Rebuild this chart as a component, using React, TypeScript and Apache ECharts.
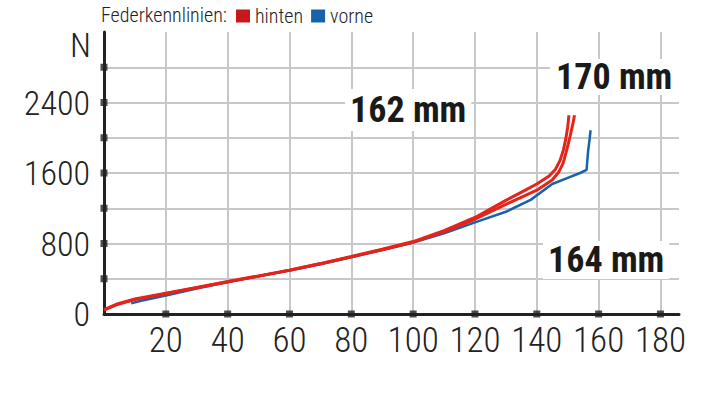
import React, { useEffect, useRef } from "react";
import * as echarts from "echarts";

// Federweg (mm) and Kraft (N)
const hintenAX = [0, 4, 10, 20, 30, 40, 50, 60, 70, 80, 90, 100, 110, 120, 130, 136, 140, 144, 146, 147.5, 148.6, 149.4, 150, 150.4];
const hintenAY = [50, 110, 170, 236, 302, 368, 432, 498, 572, 652, 735, 822, 945, 1095, 1290, 1400, 1475, 1565, 1640, 1740, 1860, 1990, 2120, 2255];

const hintenBX = [0, 4, 10, 20, 30, 40, 50, 60, 70, 80, 90, 100, 110, 120, 130, 136, 140, 145, 147, 148.5, 149.6, 150.5, 151.2, 151.8, 152.2];
const hintenBY = [45, 105, 163, 230, 298, 364, 430, 496, 570, 648, 730, 815, 932, 1075, 1245, 1340, 1405, 1520, 1605, 1710, 1850, 1975, 2085, 2180, 2255];

const vorneX = [8.8, 12, 20, 30, 40, 50, 60, 70, 80, 90, 100, 110, 120, 130, 138, 145, 150, 154, 156.1, 156.6, 157, 157.4];
const vorneY = [121, 150, 210, 290, 362, 428, 494, 565, 644, 726, 810, 915, 1040, 1160, 1295, 1475, 1545, 1600, 1635, 1850, 1960, 2085];

const xTicks = [20, 40, 60, 80, 100, 120, 140, 160, 180];
const yTicks = [400, 800, 1200, 1600, 2000, 2400, 2800];
const yLabels = [0, 800, 1600, 2400];

const labels = ["162 mm", "170 mm", "164 mm"];

const FONT = "'Roboto Condensed', 'DejaVu Sans Condensed', sans-serif";
const RED = "#e3241b";
const BLUE = "#1862aa";
const AXIS = "#222222";

const zip = (xs: number[], ys: number[]) => xs.map((x, i) => [x, ys[i]]);

export default function App() {
  const ref = useRef<HTMLDivElement>(null);
  useEffect(() => {
    if (!ref.current) return;
    const chart = echarts.init(ref.current, null, { renderer: "svg" });
    const tickData = [
      ...xTicks.map((v) => [v, 0]),
      ...yTicks.map((v) => [0, v]),
    ];
    chart.setOption({
      animation: false,
      backgroundColor: "#ffffff",
      grid: { left: 104, right: 33, top: 32, bottom: 79, containLabel: false },
      legend: {
        left: 236,
        top: 6,
        padding: 0,
        data: ["hinten", "vorne"],
        icon: "rect",
        itemWidth: 14,
        itemHeight: 13,
        itemGap: 8,
        selectedMode: false,
        textStyle: { fontFamily: FONT, fontSize: 20, fontWeight: 300, color: "#222" },
      },
      xAxis: {
        type: "value",
        min: 0,
        max: 186,
        interval: 20,
        axisLine: { show: true, lineStyle: { color: AXIS, width: 3 } },
        axisTick: { show: false },
        axisLabel: {
          showMinLabel: false,
          showMaxLabel: false,
          margin: 9,
          fontFamily: FONT,
          fontSize: 35,
          fontWeight: 300,
          color: "#222",
          formatter: (v: number) => (v > 0 && v % 20 === 0 ? String(v) : ""),
        },
        splitLine: { show: true, showMinLine: false, showMaxLine: false, lineStyle: { color: "#c8c8c8", width: 2 } },
      },
      yAxis: {
        type: "value",
        min: 0,
        max: 3200,
        interval: 400,
        axisLine: { show: true, lineStyle: { color: AXIS, width: 3 } },
        axisTick: { show: false },
        axisLabel: {
          margin: 14,
          fontFamily: FONT,
          fontSize: 34,
          fontWeight: 300,
          color: "#222",
          formatter: (v: number) => (yLabels.includes(v) ? String(v) : ""),
        },
        splitLine: { show: true, showMinLine: false, showMaxLine: false, lineStyle: { color: "#c8c8c8", width: 2 } },
      },
      graphic: [
        {
          type: "text",
          z: 100,
          style: { text: "Federkennlinien:", x: 101, y: 15, textVerticalAlign: "middle", font: `300 20px ${FONT}`, fill: "#222" },
        },
        {
          type: "text",
          z: 100,
          style: { text: "N", x: 91, y: 45, textAlign: "right", textVerticalAlign: "middle", font: `300 34px ${FONT}`, fill: "#222" },
        },
        {
          type: "text",
          z: 100,
          style: {
            text: labels[0], x: 345, y: 110, textVerticalAlign: "middle",
            font: `bold 36px ${FONT}`, fill: "#1a1a1a", backgroundColor: "#fff", padding: [3, 5, 3, 5],
          },
        },
        {
          type: "text",
          z: 100,
          style: {
            text: labels[1], x: 550, y: 77, textVerticalAlign: "middle",
            font: `bold 36px ${FONT}`, fill: "#1a1a1a", backgroundColor: "#fff", padding: [0, 20, 0, 6],
          },
        },
        {
          type: "text",
          z: 100,
          style: {
            text: labels[2], x: 543, y: 260, textVerticalAlign: "middle",
            font: `bold 36px ${FONT}`, fill: "#1a1a1a", backgroundColor: "#fff", padding: [2, 5, 0, 5],
          },
        },
      ],
      series: [
        {
          name: "vorne",
          type: "line",
          data: zip(vorneX, vorneY),
          showSymbol: false,
          color: BLUE,
          lineStyle: { color: BLUE, width: 2.5 },
          z: 3,
        },
        {
          name: "hinten",
          type: "line",
          data: zip(hintenBX, hintenBY),
          showSymbol: false,
          color: "#c8171c",
          lineStyle: { color: RED, width: 3 },
          z: 4,
        },
        {
          name: "hinten",
          type: "line",
          data: zip(hintenAX, hintenAY),
          showSymbol: false,
          color: "#c8171c",
          lineStyle: { color: RED, width: 3 },
          z: 4,
        },
        {
          name: "ticks",
          type: "scatter",
          data: tickData,
          symbol: "rect",
          symbolSize: 7,
          itemStyle: { color: AXIS },
          clip: false,
          silent: true,
          z: 5,
        },
      ],
    });
    return () => chart.dispose();
  }, []);
  return <div ref={ref} style={{ position: "fixed", left: 0, top: 0, width: 712, height: 393 }} />;
}
